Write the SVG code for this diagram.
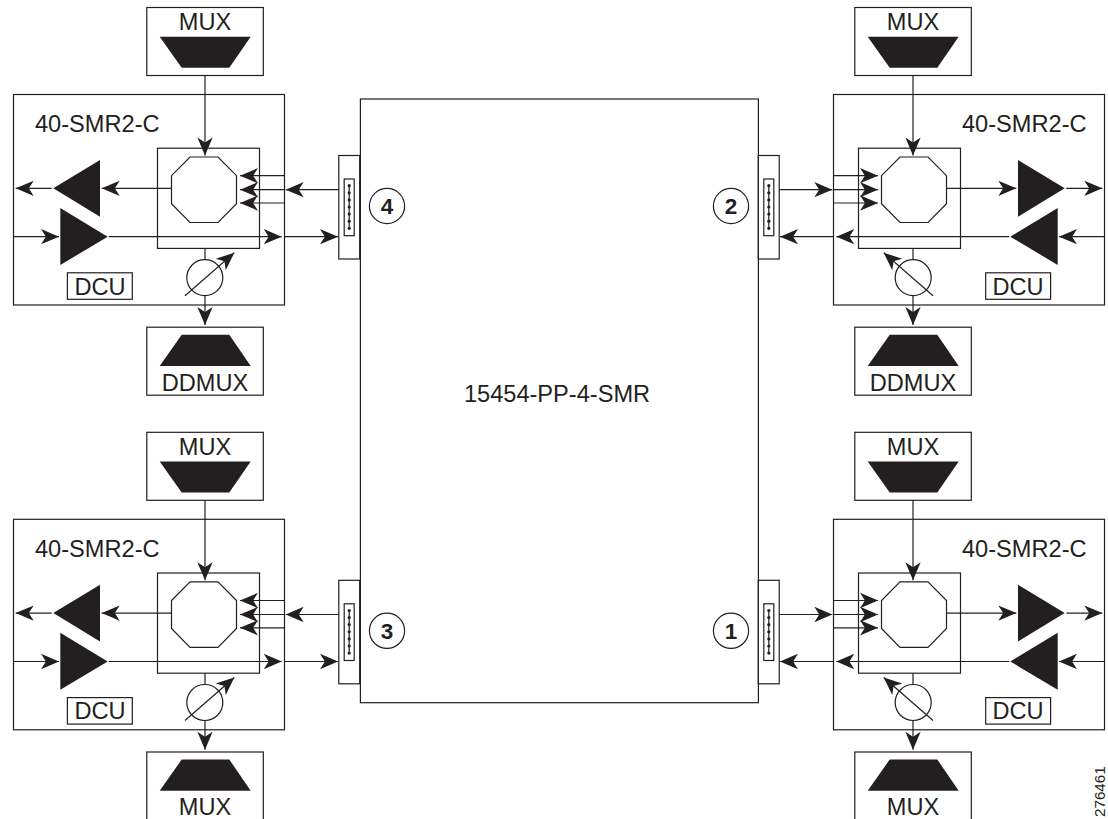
<svg xmlns="http://www.w3.org/2000/svg" width="1108" height="819" viewBox="0 0 1108 819">
<style>
text{font-family:"Liberation Sans",Arial,sans-serif;fill:#231f20;font-size:23.6px}
.c{text-anchor:middle}
.b{font-weight:bold;font-size:22.5px}
.box{fill:#fff;stroke:#231f20;stroke-width:1.2}
.hollow{fill:none;stroke:#231f20;stroke-width:1.2}
.solid{fill:#231f20;stroke:none}
.wire{fill:none;stroke:#231f20;stroke-width:1.2}
.arrow{marker-end:url(#ah)}
</style>
<defs>
<marker id="ah" markerUnits="userSpaceOnUse" markerWidth="18" markerHeight="16" viewBox="0 0 16.5 14" refX="16.5" refY="7" orient="auto" overflow="visible">
<path d="M16.5,7 L0,0 L4.5,7 L0,14 Z" fill="#231f20"/>
</marker>
<g id="muxbox"><rect class="box" x="146.8" y="7.5" width="116.5" height="68"/><path class="solid" d="M159.7,36.7H250.7L229.3,67.7H181.7Z"/></g>
<g id="demuxbox"><rect class="box" x="146.8" y="327.2" width="116.5" height="68"/><path class="solid" d="M181.7,334.7H229.3L250.7,366H159.7Z"/></g>
<g id="wss"><rect class="hollow" x="157.5" y="148.2" width="102" height="100.2"/><path class="hollow" d="M190,157H218L236.5,175.7V203.7L218,222.5H190L171.5,203.7V175.7Z"/></g>
<path id="amp-out" class="solid" d="M53.3,188.3L100,160V216.7Z"/>
<path id="amp-in" class="solid" d="M60.3,208L107.7,236.7L60.3,265Z"/>
<g id="port"><rect class="hollow" x="338.8" y="155.5" width="20.9" height="103.5"/><rect class="hollow" x="344.2" y="179" width="10" height="56.7"/><path class="hollow" d="M349.2,185.7V228.3"/><g class="solid"><circle cx="349.2" cy="185.7" r="1.6"/><circle cx="349.2" cy="192.8" r="1.6"/><circle cx="349.2" cy="199.9" r="1.6"/><circle cx="349.2" cy="207" r="1.6"/><circle cx="349.2" cy="214.1" r="1.6"/><circle cx="349.2" cy="221.2" r="1.6"/><circle cx="349.2" cy="228.3" r="1.6"/></g></g>
<circle id="vatt" class="box" cx="204.8" cy="277.7" r="18"/>
<circle id="badge" class="hollow" cx="387" cy="206" r="17.6"/>
</defs>

<g id="node-pp-4-smr"><rect class="box" x="360.4" y="99" width="398" height="603.7"/><text class="c" x="557" y="401.7">15454-PP-4-SMR</text></g>

<g id="node-smr-4">
<rect class="hollow" x="13.5" y="94.5" width="271" height="210.5"/>
<text x="35" y="132">40-SMR2-C</text>
<use href="#wss"/><use href="#amp-out"/><use href="#amp-in"/>
<rect class="hollow" x="67.4" y="272.8" width="64.9" height="26.5"/><text class="c" x="100" y="294.7">DCU</text>
<use href="#vatt"/>
</g>
<g id="node-smr-2">
<rect class="hollow" x="833.5" y="94.5" width="271" height="210.5"/>
<text x="962" y="132">40-SMR2-C</text>
<g transform="translate(1118,0) scale(-1,1)"><use href="#wss"/><use href="#amp-out"/><use href="#amp-in"/><use href="#vatt"/></g>
<rect class="hollow" x="985.7" y="272.8" width="64.9" height="26.5"/><text class="c" x="1018" y="294.7">DCU</text>
</g>
<g id="node-smr-3" transform="translate(0,424.8)">
<rect class="hollow" x="13.5" y="94.5" width="271" height="210.5"/>
<text x="35" y="132">40-SMR2-C</text>
<use href="#wss"/><use href="#amp-out"/><use href="#amp-in"/>
<rect class="hollow" x="67.4" y="272.8" width="64.9" height="26.5"/><text class="c" x="100" y="294.7">DCU</text>
<use href="#vatt"/>
</g>
<g id="node-smr-1" transform="translate(0,424.8)">
<rect class="hollow" x="833.5" y="94.5" width="271" height="210.5"/>
<text x="962" y="132">40-SMR2-C</text>
<g transform="translate(1118,0) scale(-1,1)"><use href="#wss"/><use href="#amp-out"/><use href="#amp-in"/><use href="#vatt"/></g>
<rect class="hollow" x="985.7" y="272.8" width="64.9" height="26.5"/><text class="c" x="1018" y="294.7">DCU</text>
</g>

<g id="node-mux-4-in"><use href="#muxbox"/><text class="c" x="205" y="30">MUX</text></g>
<g id="node-mux-4-out"><use href="#demuxbox"/><text class="c" x="205" y="390.7">DDMUX</text></g>
<g id="node-mux-2-in" transform="translate(708,0)"><use href="#muxbox"/><text class="c" x="205" y="30">MUX</text></g>
<g id="node-mux-2-out" transform="translate(708,0)"><use href="#demuxbox"/><text class="c" x="205" y="390.7">DDMUX</text></g>
<g id="node-mux-3-in" transform="translate(0,424.8)"><use href="#muxbox"/><text class="c" x="205" y="30">MUX</text></g>
<g id="node-mux-3-out" transform="translate(0,424.8)"><use href="#demuxbox"/><text class="c" x="205" y="390.7">MUX</text></g>
<g id="node-mux-1-in" transform="translate(708,424.8)"><use href="#muxbox"/><text class="c" x="205" y="30">MUX</text></g>
<g id="node-mux-1-out" transform="translate(708,424.8)"><use href="#demuxbox"/><text class="c" x="205" y="390.7">MUX</text></g>

<g id="node-port-4"><use href="#port"/><use href="#badge"/><text class="c b" x="387" y="214">4</text></g>
<g id="node-port-2"><g transform="translate(1118,0) scale(-1,1)"><use href="#port"/><use href="#badge"/></g><text class="c b" x="731" y="214">2</text></g>
<g id="node-port-3" transform="translate(0,424.8)"><use href="#port"/><use href="#badge"/><text class="c b" x="387" y="214">3</text></g>
<g id="node-port-1" transform="translate(0,424.8)"><g transform="translate(1118,0) scale(-1,1)"><use href="#port"/><use href="#badge"/></g><text class="c b" x="731" y="214">1</text></g>

<g id="connectors" class="wire">
<path class="arrow" d="M205,75.5V155.5"/>
<path class="arrow" d="M171.5,188.3H101.7"/>
<path class="arrow" d="M51.7,188.3H15.7"/>
<path class="arrow" d="M13.5,236.7H59"/>
<path class="arrow" d="M108.7,236.7H281.7"/>
<path class="arrow" d="M284.5,236.7H338"/>
<path class="arrow" d="M338.8,189.7H285.7"/>
<path class="arrow" d="M284.5,175.7H240"/>
<path class="arrow" d="M284.5,189.7H240"/>
<path class="arrow" d="M284.5,203H240"/>
<path d="M205,248.5V259.7"/>
<path class="arrow" d="M205,295.7V325"/>
<path class="arrow" d="M185,295.7L234.3,252.7"/>
<path class="arrow" d="M913,75.5V155.5"/>
<path class="arrow" d="M946.5,188.3H1016.3"/>
<path class="arrow" d="M1066.3,188.3H1102.3"/>
<path class="arrow" d="M1104.5,236.7H1059"/>
<path class="arrow" d="M1009.3,236.7H836.3"/>
<path class="arrow" d="M833.5,236.7H780"/>
<path class="arrow" d="M779.2,189.7H832.3"/>
<path class="arrow" d="M833.5,175.7H878"/>
<path class="arrow" d="M833.5,189.7H878"/>
<path class="arrow" d="M833.5,203H878"/>
<path d="M913,248.5V259.7"/>
<path class="arrow" d="M913,295.7V325"/>
<path class="arrow" d="M933,295.7L883.7,252.7"/>
<path class="arrow" d="M205,500.3V580.3"/>
<path class="arrow" d="M171.5,613.1H101.7"/>
<path class="arrow" d="M51.7,613.1H15.7"/>
<path class="arrow" d="M13.5,661.5H59"/>
<path class="arrow" d="M108.7,661.5H281.7"/>
<path class="arrow" d="M284.5,661.5H338"/>
<path class="arrow" d="M338.8,614.5H285.7"/>
<path class="arrow" d="M284.5,600.5H240"/>
<path class="arrow" d="M284.5,614.5H240"/>
<path class="arrow" d="M284.5,627.8H240"/>
<path d="M205,673.3V684.5"/>
<path class="arrow" d="M205,720.5V749.8"/>
<path class="arrow" d="M185,720.5L234.3,677.5"/>
<path class="arrow" d="M913,500.3V580.3"/>
<path class="arrow" d="M946.5,613.1H1016.3"/>
<path class="arrow" d="M1066.3,613.1H1102.3"/>
<path class="arrow" d="M1104.5,661.5H1059"/>
<path class="arrow" d="M1009.3,661.5H836.3"/>
<path class="arrow" d="M833.5,661.5H780"/>
<path class="arrow" d="M779.2,614.5H832.3"/>
<path class="arrow" d="M833.5,600.5H878"/>
<path class="arrow" d="M833.5,614.5H878"/>
<path class="arrow" d="M833.5,627.8H878"/>
<path d="M913,673.3V684.5"/>
<path class="arrow" d="M913,720.5V749.8"/>
<path class="arrow" d="M933,720.5L883.7,677.5"/>
</g>

<text id="figure-id" transform="translate(1104.5,817) rotate(-90)" style="font-size:15.2px">276461</text>
</svg>
